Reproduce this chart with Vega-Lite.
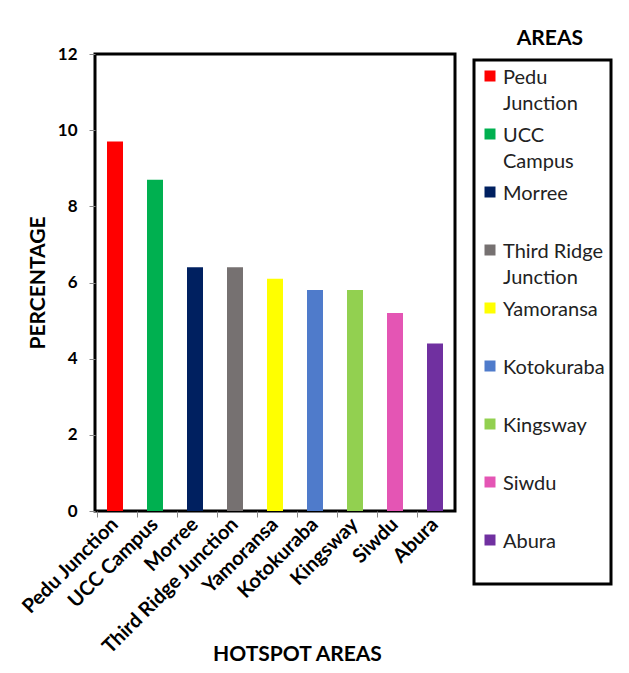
{
  "$schema": "https://vega.github.io/schema/vega-lite/v6.json",
  "autosize": {"type": "none"},
  "padding": {"left": 95, "top": 54, "right": 174, "bottom": 162},
  "width": 360,
  "height": 457,
  "background": "white",
  "title": {
    "text": "AREAS",
    "anchor": "end",
    "frame": "group",
    "dx": 128,
    "dy": 12,
    "offset": 8,
    "font": "Lato",
    "fontSize": 21,
    "fontWeight": "bold",
    "color": "black"
  },
  "data": {
    "values": [
      {"area": "Pedu Junction", "pct": 9.7},
      {"area": "UCC Campus", "pct": 8.7},
      {"area": "Morree", "pct": 6.4},
      {"area": "Third Ridge Junction", "pct": 6.4},
      {"area": "Yamoransa", "pct": 6.1},
      {"area": "Kotokuraba", "pct": 5.8},
      {"area": "Kingsway", "pct": 5.8},
      {"area": "Siwdu", "pct": 5.2},
      {"area": "Abura", "pct": 4.4}
    ]
  },
  "mark": {"type": "bar", "size": 16},
  "encoding": {
    "x": {
      "field": "area",
      "type": "nominal",
      "sort": null,
      "title": "HOTSPOT AREAS",
      "axis": {
        "labelAngle": -45,
        "labelAlign": "right",
        "labelBaseline": "middle",
        "labelFont": "Lato",
        "labelFontSize": 20,
        "labelFontWeight": "bold",
        "labelColor": "black",
        "labelPadding": 4,
        "labelLimit": 400,
        "bandPosition": 0,
        "tickSize": 6,
        "tickColor": "#888888",
        "domain": false,
        "titleFont": "Lato",
        "titleFontSize": 21,
        "titleFontWeight": "bold",
        "titleColor": "black",
        "titleX": 202,
        "titleY": 132,
        "titleBaseline": "top"
      }
    },
    "y": {
      "field": "pct",
      "type": "quantitative",
      "title": "PERCENTAGE",
      "scale": {"domain": [0, 12]},
      "axis": {
        "values": [0, 2, 4, 6, 8, 10, 12],
        "grid": false,
        "domain": false,
        "tickSize": 6,
        "tickColor": "#888888",
        "labelPadding": 12,
        "labelFont": "Lato",
        "labelFontSize": 17,
        "labelFontWeight": "bold",
        "labelColor": "black",
        "titleFont": "Lato",
        "titleFontSize": 21,
        "titleFontWeight": "bold",
        "titleColor": "black",
        "titlePadding": 9
      }
    },
    "color": {
      "field": "area",
      "type": "nominal",
      "sort": null,
      "scale": {
        "domain": ["Pedu Junction", "UCC Campus", "Morree", "Third Ridge Junction", "Yamoransa", "Kotokuraba", "Kingsway", "Siwdu", "Abura"],
        "range": ["#FF0000", "#00B050", "#002060", "#767171", "#FFFF00", "#4F7BCB", "#92D050", "#E455B4", "#7030A0"]
      },
      "legend": {
        "title": null,
        "orient": "none",
        "legendX": 379,
        "legendY": 6,
        "padding": 6,
        "strokeColor": "black",
        "symbolType": "square",
        "symbolSize": 121,
        "symbolStrokeWidth": 0,
        "labelFont": "Lato",
        "labelFontSize": 20,
        "labelColor": "#222222",
        "labelOffset": 3,
        "labelBaseline": "top",
        "labelLimit": 200,
        "rowPadding": 10,
        "labelExpr": "datum.label == 'Third Ridge Junction' ? ['Third Ridge','Junction'] : datum.label == 'Pedu Junction' ? ['Pedu','Junction'] : datum.label == 'UCC Campus' ? ['UCC','Campus'] : [datum.label, ' ']",
        "encode": {"labels": {"update": {"dy": {"value": -8}}}}
      }
    }
  },
  "config": {
    "view": {"stroke": "black", "strokeWidth": 3},
    "legend": {"strokeWidth": 3},
    "style": {"guide-label": {"lineHeight": 26}}
  }
}
